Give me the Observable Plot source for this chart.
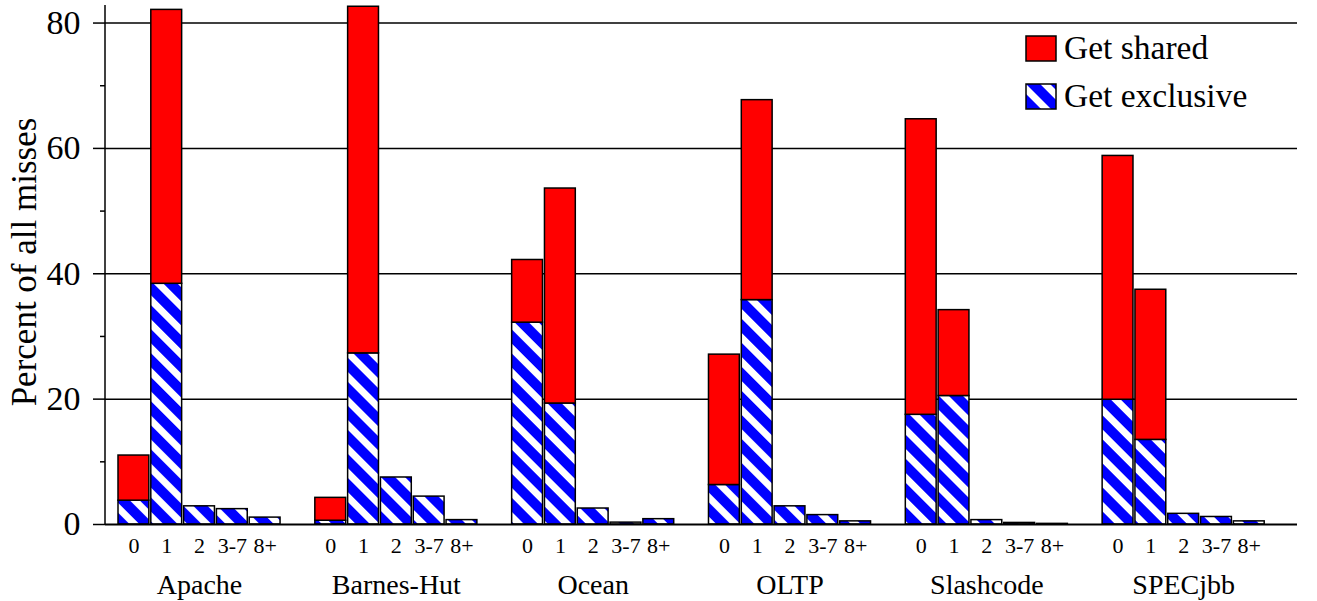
<!DOCTYPE html>
<html>
<head>
<meta charset="utf-8">
<script src="https://cdn.jsdelivr.net/npm/d3@7"></script>
<script src="https://cdn.jsdelivr.net/npm/@observablehq/plot@0.6"></script>
<style>
  html, body { margin: 0; padding: 0; background: #fff; }
  #wrap { position: relative; width: 1317px; height: 601px; font-family: "Liberation Serif", "Times New Roman", serif; color: #000; }
  #wrap svg, #wrap text { font-family: "Liberation Serif", "Times New Roman", serif !important; }
  #legend { position: absolute; left: 0; top: 0; pointer-events: none; }
</style>
</head>
<body>
<svg width="0" height="0" style="position:absolute">
  <defs>
    <pattern id="stripes" patternUnits="userSpaceOnUse" width="17" height="17" patternTransform="rotate(45)">
      <rect width="17" height="17" fill="#0000ff"></rect>
      <rect width="17" height="7" fill="#ffffff"></rect>
    </pattern>
  </defs>
</svg>
<div id="wrap"></div>
<script>
// ---- data ----
const groups = ["Apache", "Barnes-Hut", "Ocean", "OLTP", "Slashcode", "SPECjbb"];
const bins = ["0", "1", "2", "3-7", "8+"];
// per group, per bin (percent of all misses)
const getExclusive = [
  [3.8, 38.4, 2.9, 2.45, 1.1],
  [0.6, 27.3, 7.5, 4.45, 0.7],
  [32.2, 19.3, 2.55, 0.3, 0.85],
  [6.3, 35.8, 2.9, 1.5, 0.5],
  [17.5, 20.5, 0.7, 0.25, 0.1],
  [19.9, 13.5, 1.7, 1.2, 0.5]
];
const getShared = [
  [7.2, 43.7, 0, 0, 0],
  [3.65, 55.3, 0, 0, 0],
  [10.0, 34.3, 0, 0, 0],
  [20.8, 31.9, 0, 0, 0],
  [47.15, 13.7, 0, 0, 0],
  [38.9, 23.95, 0, 0, 0]
];
const seriesNames = ["Get exclusive", "Get shared"];
const seriesFills = ["url(#stripes)", "#ff0000"];
const majorTicks = [0, 20, 40, 60, 80];
const minorTicks = [10, 30, 50, 70];
const yLabel = "Percent of all misses";

// ---- build table ----
const keyOf = (g, b) => `${g}|${b}`;
const rows = [];
groups.forEach((g, i) => bins.forEach((b, j) => {
  rows.push({key: keyOf(g, b), series: seriesNames[0], value: getExclusive[i][j]});
  rows.push({key: keyOf(g, b), series: seriesNames[1], value: getShared[i][j]});
}));
const xDomain = groups.flatMap(g => [...bins.map(b => keyOf(g, b)), keyOf(g, "gap")]);
const binKeys = groups.flatMap(g => bins.map(b => keyOf(g, b)));
const groupKeys = groups.map(g => keyOf(g, bins[2]));
const fillOf = s => seriesFills[seriesNames.indexOf(s)];

const serif = "'Liberation Serif', 'Times New Roman', serif";
const svgns = "http://www.w3.org/2000/svg";
const chart = Plot.plot({
  width: 1317,
  height: 601,
  marginLeft: 105,
  marginRight: 20,
  marginTop: 5,
  marginBottom: 77,
  style: {fontFamily: serif, color: "#000", background: "#fff", overflow: "visible"},
  x: {type: "band", domain: xDomain, range: [118, 1297], paddingInner: 0.06, paddingOuter: 0, align: 0, round: false},
  y: {domain: [0, 82.8]},
  color: {type: "identity"},
  marks: [
    Plot.gridY(majorTicks.filter(t => t > 0), {stroke: "#000", strokeOpacity: 1, strokeWidth: 1.5}),
    Plot.barY(rows, {x: "key", y: "value", z: "series", fill: d => fillOf(d.series), stroke: "#000", strokeWidth: 1.5}),
    Plot.ruleY([0], {stroke: "#000", strokeWidth: 2}),
    (index, scales, values, dims) => {
      const l = document.createElementNS(svgns, "line");
      l.setAttribute("x1", dims.marginLeft); l.setAttribute("x2", dims.marginLeft);
      l.setAttribute("y1", dims.marginTop); l.setAttribute("y2", dims.height - dims.marginBottom);
      l.setAttribute("stroke", "#000"); l.setAttribute("stroke-width", "1.5");
      return l;
    },
    Plot.axisY(majorTicks, {tickSize: 12, tickPadding: 13, fontSize: 34, label: null, stroke: "#000", strokeWidth: 1.5}),
    Plot.axisY(minorTicks, {tickSize: 5, tickFormat: () => "", label: null, stroke: "#000", strokeWidth: 1.5}),
    Plot.axisX(binKeys, {tickSize: 0, tickPadding: 13, fontSize: 22, tickFormat: k => k.split("|")[1], label: null}),
    Plot.axisX(groupKeys, {tickSize: 0, tickPadding: 50, fontSize: 28, tickFormat: k => k.split("|")[0], label: null}),
    Plot.text([yLabel], {frameAnchor: "left", textAnchor: "middle", rotate: -90, dx: -81, dy: -3, fontSize: 35, fill: "#000"})
  ]
});
const wrap = document.getElementById("wrap");
wrap.appendChild(chart);

// ---- legend (overlay inside the plot, top-right) ----
const legendOrder = [1, 0];
const lg = d3.select(wrap).append("svg").attr("id", "legend").attr("width", 1317).attr("height", 601);
legendOrder.forEach((si, k) => {
  const g = lg.append("g").attr("transform", `translate(1026,${36 + k * 48})`);
  g.append("rect").attr("width", 30).attr("height", 25).attr("fill", seriesFills[si]).attr("stroke", "#000").attr("stroke-width", 1.5);
  g.append("text").attr("x", 38).attr("y", 23).attr("font-size", 33.5).attr("fill", "#000").text(seriesNames[si]);
});
</script>
</body>
</html>
